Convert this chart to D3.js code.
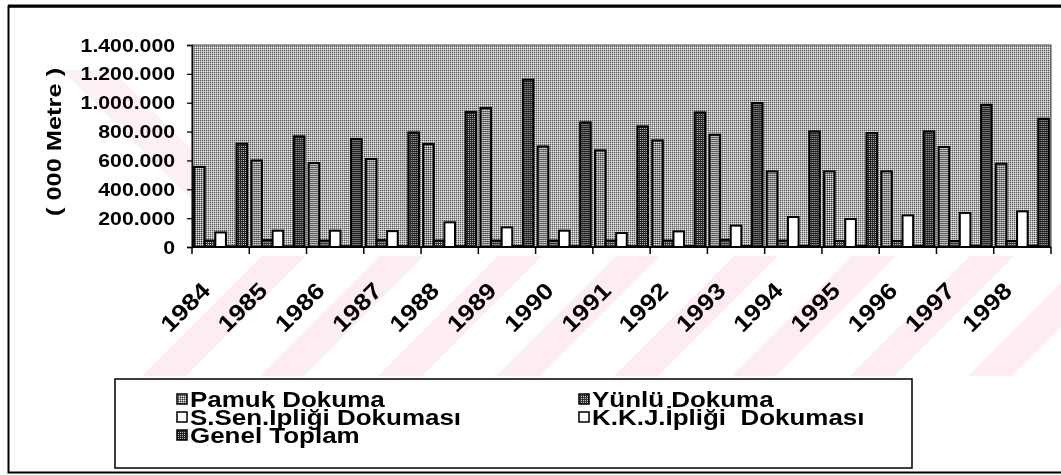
<!DOCTYPE html>
<html>
<head>
<meta charset="utf-8">
<script src="https://cdn.jsdelivr.net/npm/d3@7"></script>
<style>
  html, body { margin: 0; padding: 0; background: #fff; }
  svg text { font-family: "Liberation Sans", Arial, sans-serif; font-weight: bold; fill: #000; }
</style>
</head>
<body>
<div class="container"></div>
<script>
// values in 000 metre
var years = ['1984', '1985', '1986', '1987', '1988', '1989', '1990', '1991',
  '1992', '1993', '1994', '1995', '1996', '1997', '1998'];
var pamuk = [555000, 600000, 582000, 610000, 714000, 963000, 697000, 670000,
  739000, 778000, 524000, 524000, 524000, 693000, 577000];
var yunlu = [45000, 48000, 45000, 48000, 45000, 45000, 45000, 45000,
  45000, 50000, 45000, 42000, 42000, 42000, 42000];
var ssen = [101000, 113000, 113000, 110000, 171000, 136000, 113000, 97000,
  108000, 148000, 208000, 194000, 219000, 236000, 247000];
var kkj = [5000, 5000, 6000, 6000, 6000, 7000, 6000, 6000,
  7000, 7000, 8000, 8000, 8000, 9000, 9000];
var genel = [716000, 767000, 749000, 794000, 936000, 1160000, 864000, 836000,
  933000, 998000, 801000, 790000, 801000, 986000, 889000];
var seriesNames = ['Pamuk Dokuma', 'Yünlü Dokuma', 'S.Sen.İpliği Dokuması',
  'K.K.J.İpliği  Dokuması', 'Genel Toplam'];
var yTicks = [0, 200000, 400000, 600000, 800000, 1000000, 1200000, 1400000];
var yTitle = '( 000 Metre )';

const WIDTH = 1061;
const HEIGHT = 475;
const PLOT = { left: 192, right: 1051, top: 45, bottom: 247 };
const STRETCH = 1.18;

var _svg, _xScale, _innerScale, _yScale;

var translate = function (x, y) {
  return 'translate(' + x + ',' + y + ')';
};

var makePattern = function (defs, id, base, dots) {
  var p = defs.append('pattern')
    .attr('id', id)
    .attr('width', 2).attr('height', 2)
    .attr('patternUnits', 'userSpaceOnUse');
  p.append('rect').attr('width', 2).attr('height', 2).attr('fill', base);
  dots.forEach(function (d) {
    p.append('rect').attr('x', d[0]).attr('y', d[1])
      .attr('width', 1).attr('height', 1).attr('fill', d[2]);
  });
};

var fills = ['url(#pamuk)', 'url(#yunlu)', '#fff', '#fff', 'url(#genel)'];

var setup = function () {
  _svg = d3.select('.container').append('svg')
    .attr('width', WIDTH)
    .attr('height', HEIGHT);

  var defs = _svg.append('defs');
  makePattern(defs, 'plotbg', '#b0b0b0', [[0, 0, '#5a5a5a'], [1, 1, '#e4e4e4']]);
  makePattern(defs, 'pamuk', '#8c8c8c', [[0, 0, '#e8e8e8'], [1, 1, '#333']]);
  makePattern(defs, 'yunlu', '#333', [[0, 0, '#cfcfcf']]);
  makePattern(defs, 'genel', '#222', [[1, 0, '#bbb']]);

  _xScale = d3.scaleBand()
    .domain(years)
    .range([PLOT.left, PLOT.right]);

  _innerScale = d3.scaleBand()
    .domain(d3.range(seriesNames.length))
    .range([0, _xScale.bandwidth()])
    .paddingOuter(0.2);

  _yScale = d3.scaleLinear()
    .domain([0, 1400000])
    .range([PLOT.bottom, PLOT.top]);
};

var drawWatermark = function () {
  var g = _svg.append('g').style('mix-blend-mode', 'multiply');
  // faint diagonal stripes of the scanned page
  d3.range(0, 8).forEach(function (i) {
    var x0 = 262 + i * 118;
    g.append('polygon')
      .attr('points', [[x0, 256], [x0 + 44, 256], [x0 - 76, 376], [x0 - 120, 376]].join(' '))
      .attr('fill', '#fdedf0');
  });
  g.append('polygon')
    .attr('points', '62,70 112,70 290,248 240,248')
    .attr('fill', '#fdf0f2');
};

var drawPlot = function () {
  _svg.append('rect')
    .attr('x', PLOT.left).attr('y', PLOT.top)
    .attr('width', PLOT.right - PLOT.left)
    .attr('height', PLOT.bottom - PLOT.top)
    .attr('fill', 'url(#plotbg)')
    .attr('stroke', '#444').attr('stroke-width', 1);

  var series = [pamuk, yunlu, ssen, kkj, genel];
  var groups = _svg.append('g').selectAll('g')
    .data(years)
    .enter().append('g')
    .attr('transform', function (d) { return translate(_xScale(d), 0); });

  groups.selectAll('rect')
    .data(function (d, i) {
      return series.map(function (s, k) { return { k: k, v: s[i] }; });
    })
    .enter().append('rect')
    .attr('x', function (d) { return _innerScale(d.k); })
    .attr('width', _innerScale.bandwidth())
    .attr('y', function (d) { return _yScale(d.v); })
    .attr('height', function (d) { return _yScale(0) - _yScale(d.v); })
    .attr('fill', function (d) { return fills[d.k]; })
    .attr('stroke', '#000')
    .attr('stroke-width', 2);
};

var drawAxes = function () {
  var fmt = d3.formatLocale({ decimal: ',', thousands: '.', grouping: [3], currency: ['', ''] }).format(',');

  var yAxis = d3.axisLeft(_yScale).tickValues(yTicks).tickFormat(fmt).tickSize(5);
  var yg = _svg.append('g')
    .attr('transform', translate(PLOT.left, 0))
    .call(yAxis);
  yg.select('.domain').attr('stroke-width', 1.5);
  yg.selectAll('.tick line').attr('stroke-width', 1.3);
  yg.selectAll('.tick text')
    .attr('x', 0)
    .attr('dy', '0.34em')
    .attr('transform', 'translate(-17,0) scale(' + STRETCH + ',1)')
    .style('font-size', '18px')
    .style('font-family', '"Liberation Sans", Arial, sans-serif')
    .style('font-weight', 'bold');

  var xg = _svg.append('g');
  xg.append('line')
    .attr('x1', PLOT.left).attr('x2', PLOT.right)
    .attr('y1', PLOT.bottom).attr('y2', PLOT.bottom)
    .attr('stroke', '#000').attr('stroke-width', 2);
  xg.selectAll('.xtick')
    .data(years.concat(['end']))
    .enter().append('line')
    .attr('x1', function (d) { return d === 'end' ? PLOT.right : _xScale(d); })
    .attr('x2', function (d) { return d === 'end' ? PLOT.right : _xScale(d); })
    .attr('y1', PLOT.bottom).attr('y2', PLOT.bottom + 7)
    .attr('stroke', '#000').attr('stroke-width', 1.5);

  xg.selectAll('.ylabel')
    .data(years)
    .enter().append('text')
    .attr('text-anchor', 'end')
    .style('font-size', '23px')
    .attr('transform', function (d) {
      var cx = _xScale(d) + _xScale.bandwidth() / 2 - 9;
      return translate(cx, 292) + ' rotate(-45) scale(1.15,1)';
    })
    .text(function (d) { return d; });

  _svg.append('text')
    .attr('text-anchor', 'middle')
    .style('font-size', '20px')
    .attr('transform', translate(61, 142) + ' rotate(-90) scale(1.27,1)')
    .text(yTitle);
};

var drawLegend = function () {
  _svg.append('rect')
    .attr('x', 115).attr('y', 379)
    .attr('width', 797).attr('height', 89)
    .attr('fill', 'none')
    .attr('stroke', '#000').attr('stroke-width', 1.5);

  var cols = [177, 579];
  var items = _svg.append('g').selectAll('g')
    .data(seriesNames)
    .enter().append('g')
    .attr('transform', function (d, i) {
      return translate(cols[i % 2], 394 + Math.floor(i / 2) * 18);
    });

  items.append('rect')
    .attr('width', 10).attr('height', 10)
    .attr('fill', function (d, i) { return fills[i]; })
    .attr('stroke', '#000').attr('stroke-width', 1.5);

  items.append('text')
    .attr('transform', translate(13, 13) + ' scale(' + STRETCH + ',1)')
    .style('font-size', '22px')
    .style('white-space', 'pre')
    .text(function (d) { return d; });
};

var drawFrame = function () {
  _svg.append('rect')
    .attr('x', 8.5).attr('y', 6.5)
    .attr('width', 1070).attr('height', 466)
    .attr('fill', 'none')
    .attr('stroke', '#000').attr('stroke-width', 2);
  _svg.append('line')
    .attr('x1', 8).attr('x2', WIDTH)
    .attr('y1', 6).attr('y2', 6)
    .attr('stroke', '#000').attr('stroke-width', 3);
};

var onload = function () {
  setup();
  drawWatermark();
  drawPlot();
  drawAxes();
  drawLegend();
  drawFrame();
};

window.onload = onload;
</script>
</body>
</html>
